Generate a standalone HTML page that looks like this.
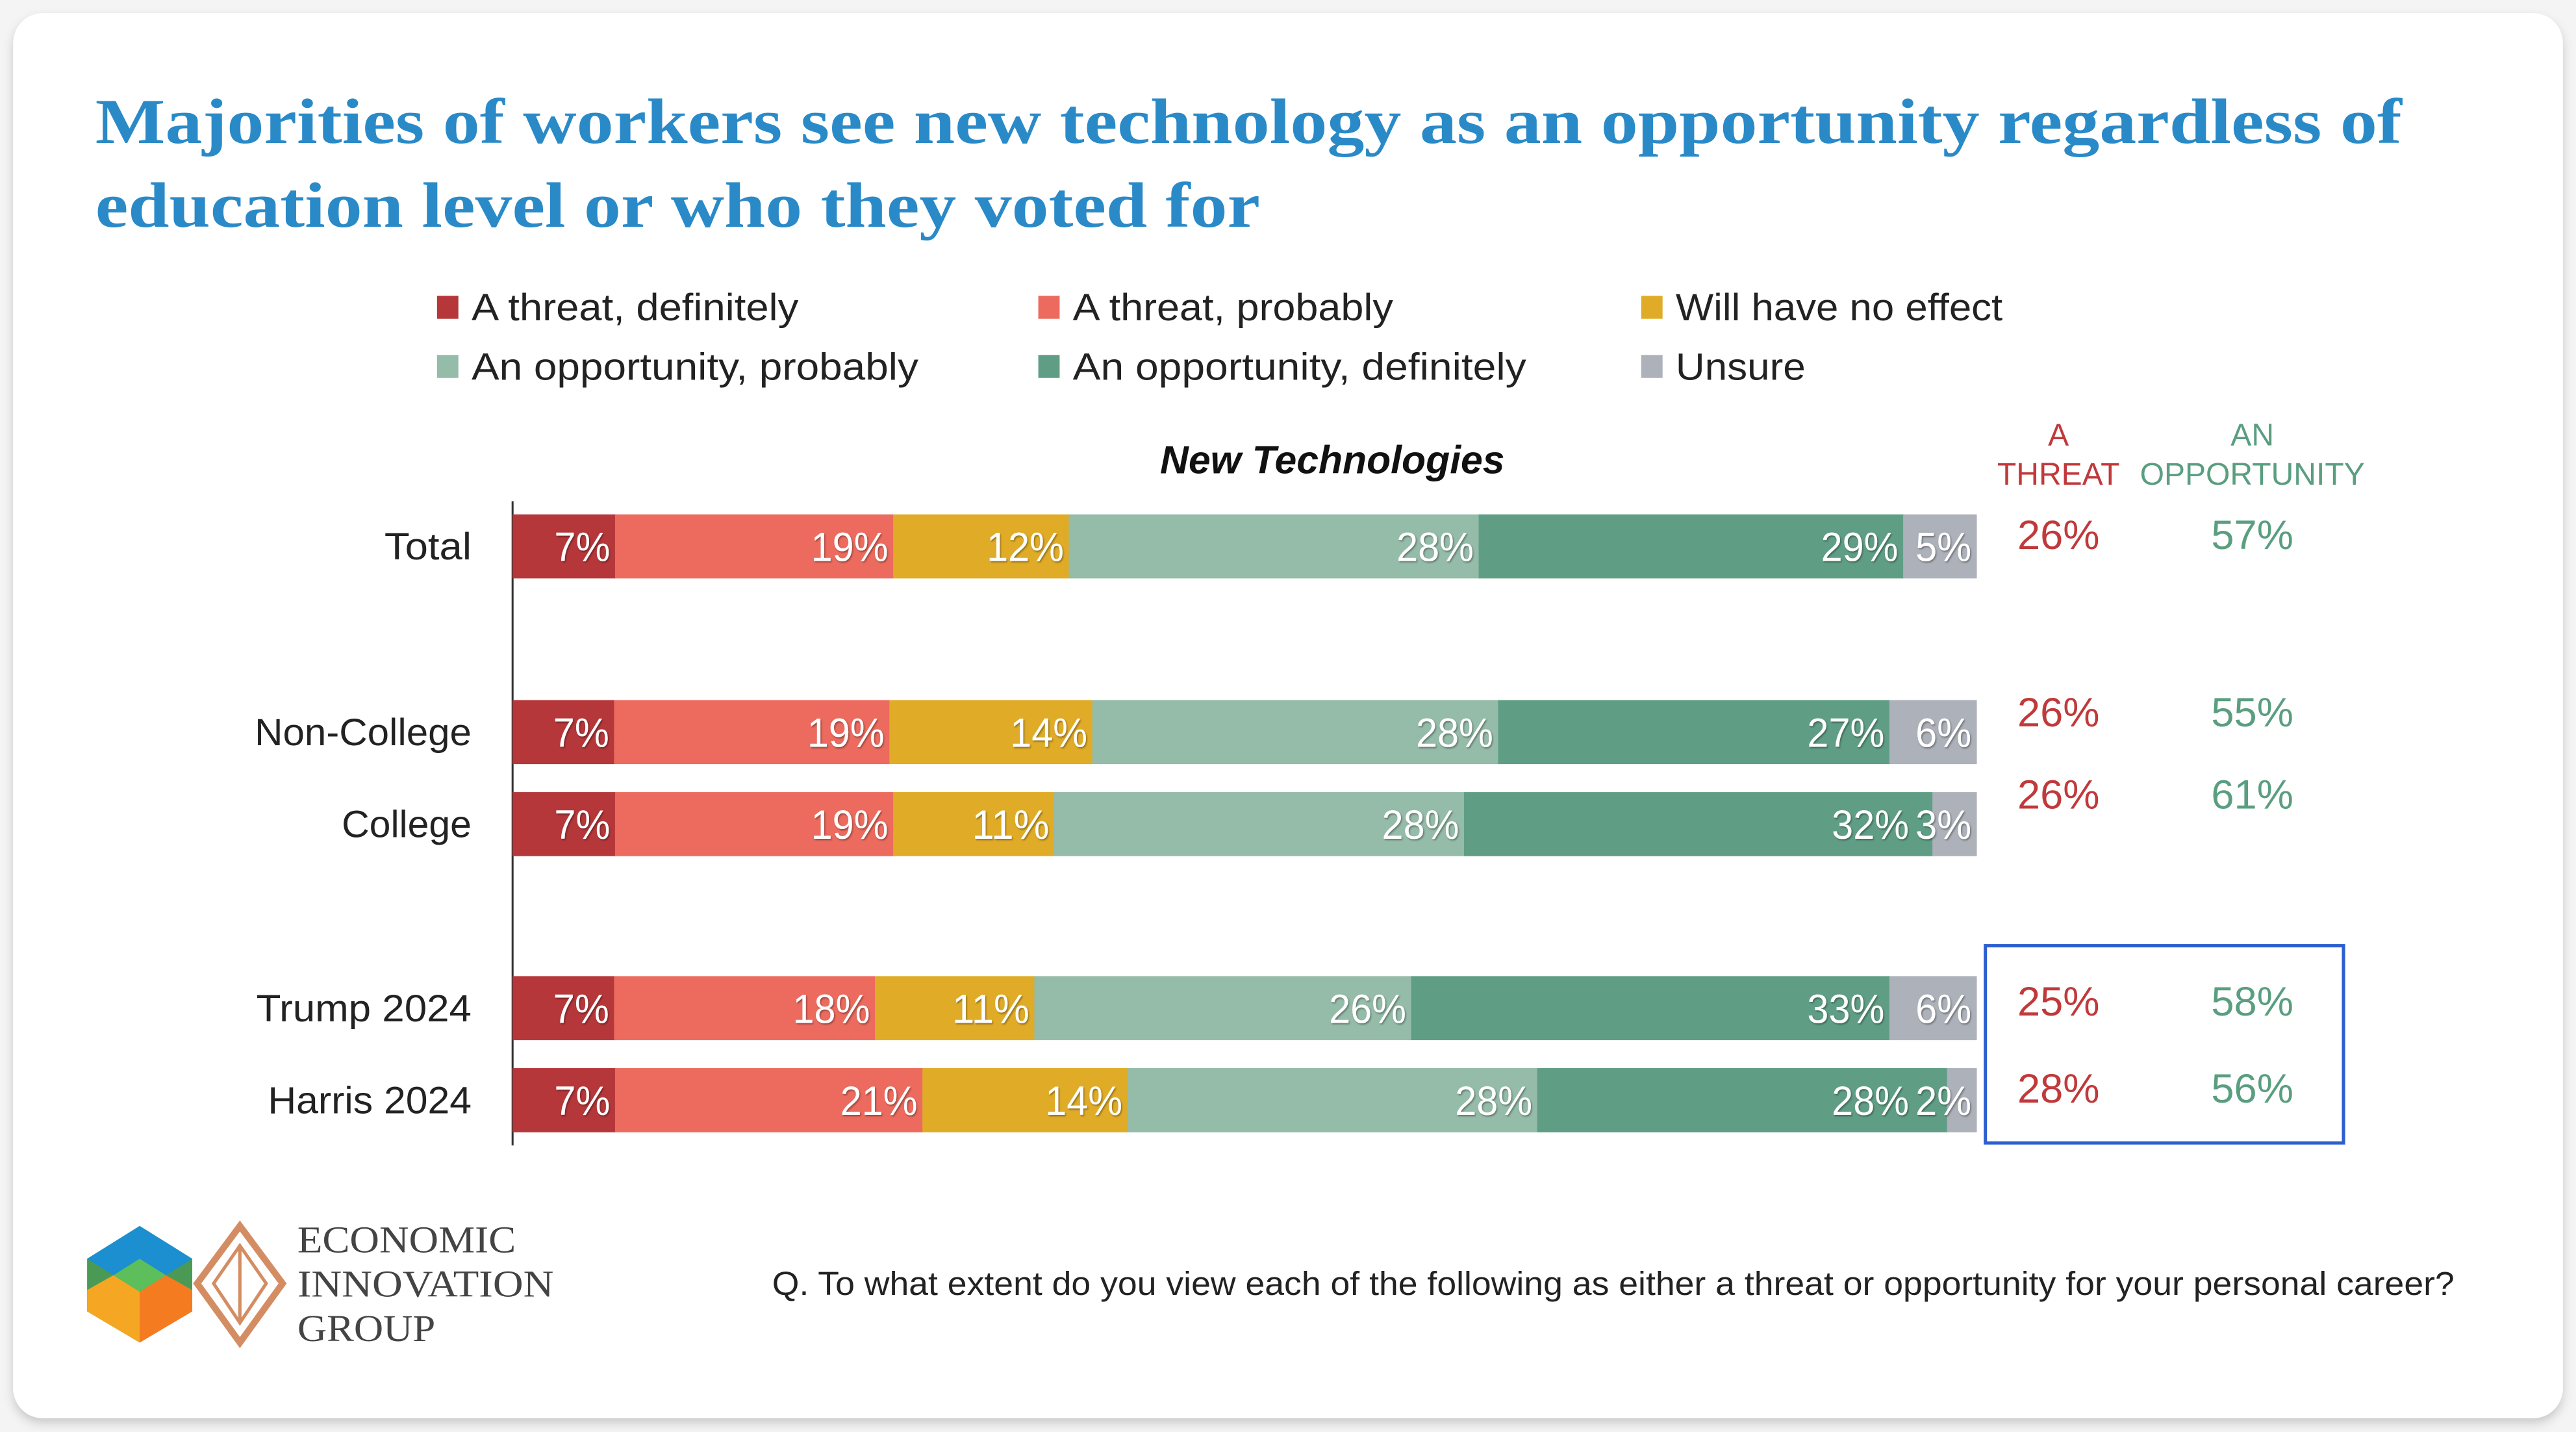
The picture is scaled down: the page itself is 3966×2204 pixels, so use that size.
<!DOCTYPE html>
<html><head><meta charset="utf-8">
<style>
html,body{margin:0;padding:0;background:#f4f4f4;}
svg{display:block;}
</style></head>
<body>
<svg id="chart" width="3966" height="2204" viewBox="0 0 1568 871.4" xmlns="http://www.w3.org/2000/svg" font-family="'Liberation Sans', sans-serif">
<defs>
<filter id="sh" x="-5%" y="-5%" width="110%" height="115%"><feDropShadow dx="0" dy="3" stdDeviation="3" flood-color="#000" flood-opacity="0.18"/></filter>
<filter id="ts" x="-20%" y="-20%" width="140%" height="140%"><feDropShadow dx="0.6" dy="0.8" stdDeviation="0.5" flood-color="#000" flood-opacity="0.35"/></filter>
</defs>
<rect x="8" y="8" width="1552" height="855" rx="18" fill="#fff" filter="url(#sh)"/>
<g fill="#2a8ac8" font-family="'Liberation Serif', serif" font-weight="bold" font-size="39">
<text x="58" y="87" textLength="1404" lengthAdjust="spacingAndGlyphs">Majorities of workers see new technology as an opportunity regardless of</text>
<text x="58" y="138" textLength="709" lengthAdjust="spacingAndGlyphs">education level or who they voted for</text>
</g>
<g id="legend" font-size="23" fill="#222"></g>
<text x="811" y="288" text-anchor="middle" font-weight="bold" font-style="italic" font-size="24" fill="#111">New Technologies</text>
<g fill="#c0393b" font-size="19" text-anchor="middle">
<text x="1253" y="271">A</text><text x="1253" y="295">THREAT</text></g>
<g fill="#5a9e80" font-size="19" text-anchor="middle">
<text x="1371" y="271">AN</text><text x="1371" y="295">OPPORTUNITY</text></g>
<line x1="312" y1="305" x2="312" y2="697" stroke="#333" stroke-width="1.2"/>
<g id="bars"></g>
<g id="totals"></g>
<rect x="1208.5" y="575.5" width="218" height="120" fill="none" stroke="#2d5fd0" stroke-width="2"/>
<g>
<polygon points="85,746 117,766 117,798 85,817 53,798 53,766" fill="#4a9a55"/>
<polygon points="85,746 117,766 101,776 85,766 69,776 53,766" fill="#1b8fd0"/>
<polygon points="53,785 69,776 85,786 85,817 53,798" fill="#f5a623"/>
<polygon points="117,785 101,776 85,786 85,817 117,798" fill="#f47b20"/>
<polygon points="85,766 101,776 85,786 69,776" fill="#5cbf5c"/>
<polygon points="146,746 172,781 146,817 120,781" fill="none" stroke="#d48d62" stroke-width="4"/>
<polygon points="146,758 162,781 146,805 130,781" fill="none" stroke="#d48d62" stroke-width="2"/>
<line x1="146" y1="758" x2="146" y2="805" stroke="#d48d62" stroke-width="2"/>
</g>
<g font-family="'Liberation Serif', serif" font-size="23" fill="#444">
<text x="181" y="762" textLength="133" lengthAdjust="spacingAndGlyphs">ECONOMIC</text>
<text x="181" y="789" textLength="156" lengthAdjust="spacingAndGlyphs">INNOVATION</text>
<text x="181" y="816" textLength="84" lengthAdjust="spacingAndGlyphs">GROUP</text>
</g>
<text x="470" y="788" font-size="20" fill="#222" textLength="1024" lengthAdjust="spacingAndGlyphs">Q. To what extent do you view each of the following as either a threat or opportunity for your personal career?</text>
</svg>
<script>
const categories = ["Total","Non-College","College","Trump 2024","Harris 2024"];
const seriesNames = ["A threat, definitely","A threat, probably","Will have no effect","An opportunity, probably","An opportunity, definitely","Unsure"];
const threatDef = [7,7,7,7,7];
const threatProb = [19,19,19,18,21];
const noEffect = [12,14,11,11,14];
const oppProb = [28,28,28,26,28];
const oppDef = [29,27,32,33,28];
const unsure = [5,6,3,6,2];
const threatTotals = [26,26,26,25,28];
const oppTotals = [57,55,61,58,56];
const colors = ["#b5373a","#ec6b5e","#e0ac27","#95bba9","#5f9e85","#adb1b9"];
const rowY = [313,426,482,594,650];
const catWidths = [53,132,79,131,124];
const legendWidths = [199,195,199,272,276,79];
const barH = 39, x0 = 312, fullW = 891;
const NS = "http://www.w3.org/2000/svg";
function mk(t, a){const e=document.createElementNS(NS,t);for(const k in a)e.setAttribute(k,a[k]);return e;}
const series = [threatDef,threatProb,noEffect,oppProb,oppDef,unsure];
const xScale = (v,sum)=> v/sum*fullW;
const bars = document.getElementById('bars');
categories.forEach((cat,i)=>{
  const lab = mk('text',{x:287,y:rowY[i]+barH/2+8,'text-anchor':'end','font-size':23,fill:'#222',textLength:catWidths[i],lengthAdjust:'spacingAndGlyphs'});
  lab.textContent = cat;
  
  
  bars.appendChild(lab);
  const sum = series.reduce((s,arr)=>s+arr[i],0);
  const segs = [];
  let x = x0;
  series.forEach((arr,j)=>{
    const w = xScale(arr[i],sum);
    const r = mk('rect',{x:x,y:rowY[i],width:w+0.3,height:barH,fill:colors[j]});
    
    
    bars.appendChild(r);
    const s = arr[i]+'%';
    segs.push({end:x+w, s:s, tl:13*(s.length-1)+21});
    x += w;
  });
  // place labels right-to-left avoiding overlap
  let limit = Infinity;
  for (let j = segs.length-1; j >= 0; j--) {
    const right = Math.min(segs[j].end-3, limit);
    segs[j].right = right;
    limit = right - segs[j].tl - 4;
  }
  segs.forEach(sg=>{
    const t = mk('text',{x:sg.right,y:rowY[i]+barH/2+9,'text-anchor':'end','font-size':25,fill:'#fff',filter:'url(#ts)',textLength:sg.tl,lengthAdjust:'spacingAndGlyphs'});
    t.textContent = sg.s;
    
    
    bars.appendChild(t);
  });
});
const totY = [326,434,484,610,663];
const totals = document.getElementById('totals');
categories.forEach((c,i)=>{
  const a = mk('text',{x:1253,y:totY[i]+8,'text-anchor':'middle','font-size':25,fill:'#c0393b'});
  a.textContent = threatTotals[i]+'%';
  
  
  totals.appendChild(a);
  const b = mk('text',{x:1371,y:totY[i]+8,'text-anchor':'middle','font-size':25,fill:'#5a9e80'});
  b.textContent = oppTotals[i]+'%';
  
  
  totals.appendChild(b);
});
const legend = document.getElementById('legend');
const lx = [266,632,999], ly = [187,223];
seriesNames.forEach((n,j)=>{
  const cx = lx[j%3], cy = ly[Math.floor(j/3)];
  const s = mk('rect',{x:cx,y:cy-7,width:13,height:14,fill:colors[j]});
  
  
  legend.appendChild(s);
  const t = mk('text',{x:cx+21,y:cy+8,textLength:legendWidths[j],lengthAdjust:'spacingAndGlyphs'});
  t.textContent = n;
  
  
  legend.appendChild(t);
});
</script>
</body></html>
